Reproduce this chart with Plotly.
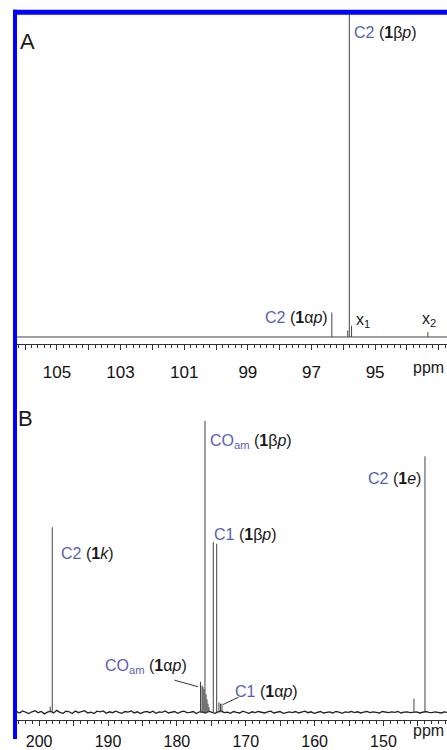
import plotly.graph_objects as go
import numpy as np

W, H = 447, 750

# ---------------- Panel A data (ppm, relative intensity) ----------------
a_peak_ppm = [95.81, 95.86, 95.74, 96.36, 93.34]
a_peak_int = [1.20, 0.020, 0.035, 0.076, 0.015]
a_base_ppm = [106.3, 92.7]
a_base_int = [0.0, 0.0]
a_tick_vals = [106, 105, 104, 103, 102, 101, 100, 99, 98, 97, 96, 95, 94, 93]
a_tick_text = ["", "105", "", "103", "", "101", "", "99", "", "97", "", "95", "", ""]

# ---------------- Panel B data ----------------
b_peak_ppm = [198.10, 198.40, 176.57, 175.92, 176.35, 176.21, 176.06, 175.77, 175.63,
              175.48, 175.34, 174.71, 174.22, 173.89, 173.67, 173.45, 145.57, 143.97]
b_peak_int = [0.635, 0.020, 0.105, 1.000, 0.092, 0.088, 0.080, 0.062, 0.045,
              0.030, 0.018, 0.584, 0.578, 0.034, 0.030, 0.030, 0.047, 0.878]
b_noise = [0.003, -0.002, 0.005, 0.001, -0.004, 0.002, 0.006, -0.001, 0.003, -0.005,
           0.001, 0.004, -0.002, 0.007, 0.000, -0.003, 0.004, 0.002, -0.004, 0.005,
           -0.001, 0.003, 0.006, -0.002, 0.001, -0.004, 0.004, 0.002, 0.005, -0.003,
           0.002, -0.001, 0.004, 0.000, -0.003, 0.003, 0.001, 0.005, -0.002, 0.002,
           -0.004, 0.001, 0.003, -0.001, 0.004, -0.003, 0.002, 0.000, 0.005, -0.002,
           0.001, 0.003, -0.003, 0.002, 0.004, -0.001, 0.000, 0.003, -0.004, 0.002,
           0.001, -0.002, 0.004, 0.000, -0.003, 0.002, 0.005, -0.001, 0.001, -0.003,
           0.003, 0.000, -0.002, 0.004, 0.001, -0.003, 0.002, -0.001, 0.003, 0.000,
           -0.002, 0.002, 0.004, -0.002, 0.001, 0.003, -0.003, 0.000, 0.002, -0.001,
           0.003, -0.002, 0.001, 0.004, -0.001, 0.002, -0.003, 0.001, 0.003, -0.002,
           0.000, 0.002, -0.002, 0.003, 0.001, -0.003, 0.002, 0.000, 0.003, -0.001,
           0.002, -0.002, 0.001, 0.003, -0.001, 0.002, 0.000, -0.002, 0.003, 0.001,
           -0.001, 0.002, 0.000, 0.003, -0.002, 0.001, 0.002, -0.001, 0.000, 0.002,
           -0.002, 0.001, 0.003, 0.000, -0.001, 0.002, 0.001, -0.002, 0.002, 0.000]
b_noise_start, b_noise_end = 203.3, 140.7
b_tick_vals = [205, 200, 195, 190, 185, 180, 175, 170, 165, 160, 155, 150, 145, 140]
b_tick_text = ["", "200", "", "190", "", "180", "", "170", "", "160", "", "150", "", ""]

BLUE_TXT = "#5b5fb2"
FONT = "Liberation Sans, Arial, sans-serif"
LINE = "#444444"


def sticks(ppm, inten):
    xs, ys = [], []
    for p, h in zip(ppm, inten):
        xs += [p, p, None]
        ys += [0, h, None]
    return xs, ys


fig = go.Figure()

ax_, ay_ = sticks(a_peak_ppm, a_peak_int)
fig.add_trace(go.Scatter(x=a_base_ppm, y=a_base_int, mode="lines",
                         line=dict(color=LINE, width=1), xaxis="x", yaxis="y"))
fig.add_trace(go.Scatter(x=ax_, y=ay_, mode="lines",
                         line=dict(color=LINE, width=1), xaxis="x", yaxis="y"))

b_noise_ppm = np.linspace(b_noise_start, b_noise_end, len(b_noise))
fig.add_trace(go.Scatter(x=b_noise_ppm, y=b_noise, mode="lines",
                         line=dict(color="#222222", width=1.3), xaxis="x2", yaxis="y2"))
bx_, by_ = sticks(b_peak_ppm, b_peak_int)
fig.add_trace(go.Scatter(x=bx_, y=by_, mode="lines",
                         line=dict(color=LINE, width=1), xaxis="x2", yaxis="y2"))

x0p = 17 / W
axis_common = dict(showline=True, linecolor="#333333", linewidth=1, ticks="outside",
                   tickcolor="#333333", tickwidth=1, ticklen=5, showgrid=False,
                   zeroline=False, tickmode="array")

fig.update_layout(
    width=W, height=H, margin=dict(l=0, r=0, t=0, b=0), autosize=False,
    paper_bgcolor="white", plot_bgcolor="white", showlegend=False,
    xaxis=dict(domain=[x0p, 1], range=[106.255, 92.74], anchor="y",
               tickvals=a_tick_vals, ticktext=a_tick_text, ticklabelstandoff=8,
               tickfont=dict(family=FONT, size=17, color="#111111"),
               minor=dict(tickmode="linear", tick0=0, dtick=0.2, ticklen=3,
                          ticks="outside", tickcolor="#333333"),
               **axis_common),
    yaxis=dict(domain=[1 - 349 / H, 1 - 15 / H], range=[-0.0214, 1.0], visible=False),
    xaxis2=dict(domain=[x0p, 1], range=[203.22, 140.77], anchor="y2",
                tickvals=b_tick_vals, ticktext=b_tick_text, ticklabelstandoff=2,
                tickfont=dict(family=FONT, size=16, color="#111111"),
                minor=dict(tickmode="linear", tick0=0, dtick=1, ticklen=3,
                           ticks="outside", tickcolor="#333333"),
                **axis_common),
    yaxis2=dict(domain=[1 - 731 / H, 1 - 410 / H], range=[-0.02703, 1.0574], visible=False),
)


def lab(text, px, py, anchor="left", size=16):
    fig.add_annotation(text=text, x=px / W, y=1 - py / H, xref="paper", yref="paper",
                       xanchor=anchor, yanchor="middle", showarrow=False,
                       font=dict(family=FONT, size=size, color="#1a1a1a"))


def c(t):
    return f"<span style='color:{BLUE_TXT}'>{t}</span>"


# Panel A labels
lab("A", 18, 42, size=22)
lab(c("C2") + " (<b>1</b>β<i>p</i>)", 352, 33)
lab(c("C2") + " (<b>1</b>α<i>p</i>)", 330, 322, anchor="right")
lab("x<sub>1</sub>", 354, 325)
lab("x<sub>2</sub>", 420, 324)
lab("ppm", 446, 373, anchor="right", size=16)

# Panel B labels
lab("B", 16, 425, size=22)
lab(c("CO<sub>am</sub>") + " (<b>1</b>β<i>p</i>)", 208, 448)
lab(c("C2") + " (<b>1</b><i>e</i>)", 423, 486, anchor="right")
lab(c("C1") + " (<b>1</b>β<i>p</i>)", 212, 542)
lab(c("C2") + " (<b>1</b><i>k</i>)", 59, 562)
lab(c("CO<sub>am</sub>") + " (<b>1</b>α<i>p</i>)", 103, 676)
lab(c("C1") + " (<b>1</b>α<i>p</i>)", 233, 702)
lab("ppm", 446, 741, anchor="right", size=16)

# leader lines
fig.add_annotation(text="", x=176.94, y=0.088, xref="x2", yref="y2", ax=-25, ay=-7,
                   showarrow=True, arrowhead=0, arrowwidth=1, arrowcolor="#333333")
fig.add_annotation(text="", x=173.30, y=0.027, xref="x2", yref="y2", ax=17, ay=-8,
                   showarrow=True, arrowhead=0, arrowwidth=1, arrowcolor="#333333")

# blue frame
fig.add_shape(type="rect", xref="paper", yref="paper", x0=13 / W, x1=17 / W,
              y0=0, y1=1 - 10 / H, fillcolor="#0000ff", line_width=0, layer="above")
fig.add_shape(type="rect", xref="paper", yref="paper", x0=13 / W, x1=1,
              y0=1 - 15 / H, y1=1 - 10 / H, fillcolor="#0000ff", line_width=0, layer="above")

fig.write_html("out.html", config={"displayModeBar": False})
